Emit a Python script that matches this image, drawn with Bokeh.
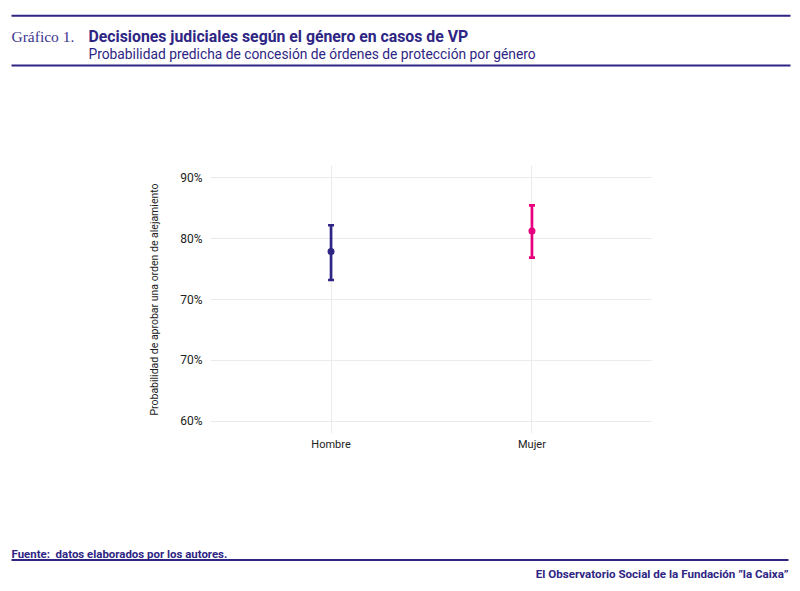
from bokeh.plotting import figure
from bokeh.models import Range1d, FixedTicker, ColumnDataSource
from bokeh.layouts import column
from bokeh.embed import file_html
from bokeh.resources import INLINE
from bokeh.core.properties import value

# ---- data ----
categories = ["Hombre", "Mujer"]
estimate = [0.809, 0.8345]
lower = [0.774, 0.8016]
upper = [0.8414, 0.866]
colors = ["#2e2584", "#e6007e"]
y_ticks = [0.60, 0.675, 0.75, 0.825, 0.90]
y_tick_labels = ["60%", "70%", "70%", "80%", "90%"]

title_prefix = "Gráfico 1."
title = "Decisiones judiciales según el género en casos de VP"
subtitle = "Probabilidad predicha de concesión de órdenes de protección por género"
source_note = "Fuente:\u00a0 datos elaborados por los autores."
credit = "El Observatorio Social de la Fundación \u201dla Caixa\u201d"
y_label = "Probabilidad de aprobar una orden de alejamiento"

PURPLE = "#2e2584"
W = 796

# ---- header ----
HH = 80
hdr = figure(width=W, height=HH, output_backend="svg", toolbar_location=None,
             x_range=Range1d(0, W), y_range=Range1d(HH, 0), min_border=0)
hdr.frame_align = False
hdr.axis.visible = False
hdr.grid.visible = False
hdr.outline_line_color = None
hdr.segment(x0=[11, 11], y0=[15.3, 65], x1=[790, 790], y1=[15.3, 65], line_color=PURPLE, line_width=2)
hdr.text(x=[11], y=[35.5], text=[title_prefix], text_font=value("Liberation Serif"),
         text_font_size="15.5px", text_color="#3d3590", text_baseline="alphabetic")
hdr.text(x=[88], y=[35.5], text=[title], text_font=value("Roboto"), text_font_style="bold",
         text_font_size="15.8px", text_color=PURPLE, text_baseline="alphabetic")
hdr.text(x=[88], y=[53], text=[subtitle], text_font=value("Roboto"),
         text_font_size="13.8px", text_color=PURPLE, text_baseline="alphabetic")

# ---- main plot ----
MH = 450
xs = [i + 1 for i in range(len(categories))]
src = ColumnDataSource(dict(x=xs, est=estimate, lo=lower, hi=upper, color=colors))
p = figure(width=W, height=MH, output_backend="svg", toolbar_location=None,
           x_range=Range1d(0.4, len(categories) + 0.6),
           y_range=Range1d(y_ticks[0] - 0.015, y_ticks[-1] + 0.015),
           min_border_left=210, min_border_right=144, min_border_top=85, min_border_bottom=97)
p.frame_align = False
p.outline_line_color = None
p.background_fill_color = "white"
for ax in (p.xaxis, p.yaxis):
    ax.axis_line_color = None
    ax.major_tick_line_color = None
    ax.minor_tick_line_color = None
    ax.major_label_text_font = "Roboto"
    ax.major_label_text_color = "#222222"
p.xaxis.major_label_text_font_size = "11px"
p.yaxis.major_label_text_font_size = "12px"
p.xaxis.ticker = FixedTicker(ticks=xs)
p.xaxis.major_label_overrides = {x: c for x, c in zip(xs, categories)}
p.xaxis.major_label_standoff = -2
p.yaxis.ticker = FixedTicker(ticks=y_ticks)
p.yaxis.major_label_overrides = {t: l for t, l in zip(y_ticks, y_tick_labels)}
p.yaxis.major_label_standoff = 2
p.yaxis.axis_label = y_label
p.yaxis.axis_label_text_font = "Roboto"
p.yaxis.axis_label_text_font_style = "normal"
p.yaxis.axis_label_text_font_size = "10.5px"
p.yaxis.axis_label_text_color = "#222222"
p.yaxis.axis_label_standoff = 16
p.xgrid.grid_line_color = "#ebebeb"
p.ygrid.grid_line_color = "#ebebeb"
p.xgrid.ticker = FixedTicker(ticks=xs)
p.ygrid.ticker = FixedTicker(ticks=y_ticks)

p.segment(x0="x", y0="lo", x1="x", y1="hi", source=src, line_color="color", line_width=2.7)
p.rect(x="x", y="lo", width=6, height=2.7, width_units="screen", height_units="screen",
       source=src, fill_color="color", line_color=None)
p.rect(x="x", y="hi", width=6, height=2.7, width_units="screen", height_units="screen",
       source=src, fill_color="color", line_color=None)
p.scatter(x="x", y="est", source=src, size=7, fill_color="color", line_color=None)

# ---- footer ----
FH = 55
ftr = figure(width=W, height=FH, output_backend="svg", toolbar_location=None,
             x_range=Range1d(0, W), y_range=Range1d(FH, 0), min_border=0)
ftr.frame_align = False
ftr.axis.visible = False
ftr.grid.visible = False
ftr.outline_line_color = None
ftr.segment(x0=[11], y0=[29.5], x1=[788], y1=[29.5], line_color=PURPLE, line_width=2)
ftr.text(x=[11], y=[23], text=[source_note], text_font=value("Roboto"), text_font_style="bold",
         text_font_size="11.45px", text_color=PURPLE, text_baseline="alphabetic")
ftr.text(x=[788], y=[43], text=[credit], text_font=value("Roboto"), text_font_style="bold",
         text_font_size="11.6px", text_color=PURPLE, text_baseline="alphabetic", text_align="right")

layout = column(hdr, p, ftr, spacing=0)
open("out.html", "w").write(file_html(layout, INLINE))
